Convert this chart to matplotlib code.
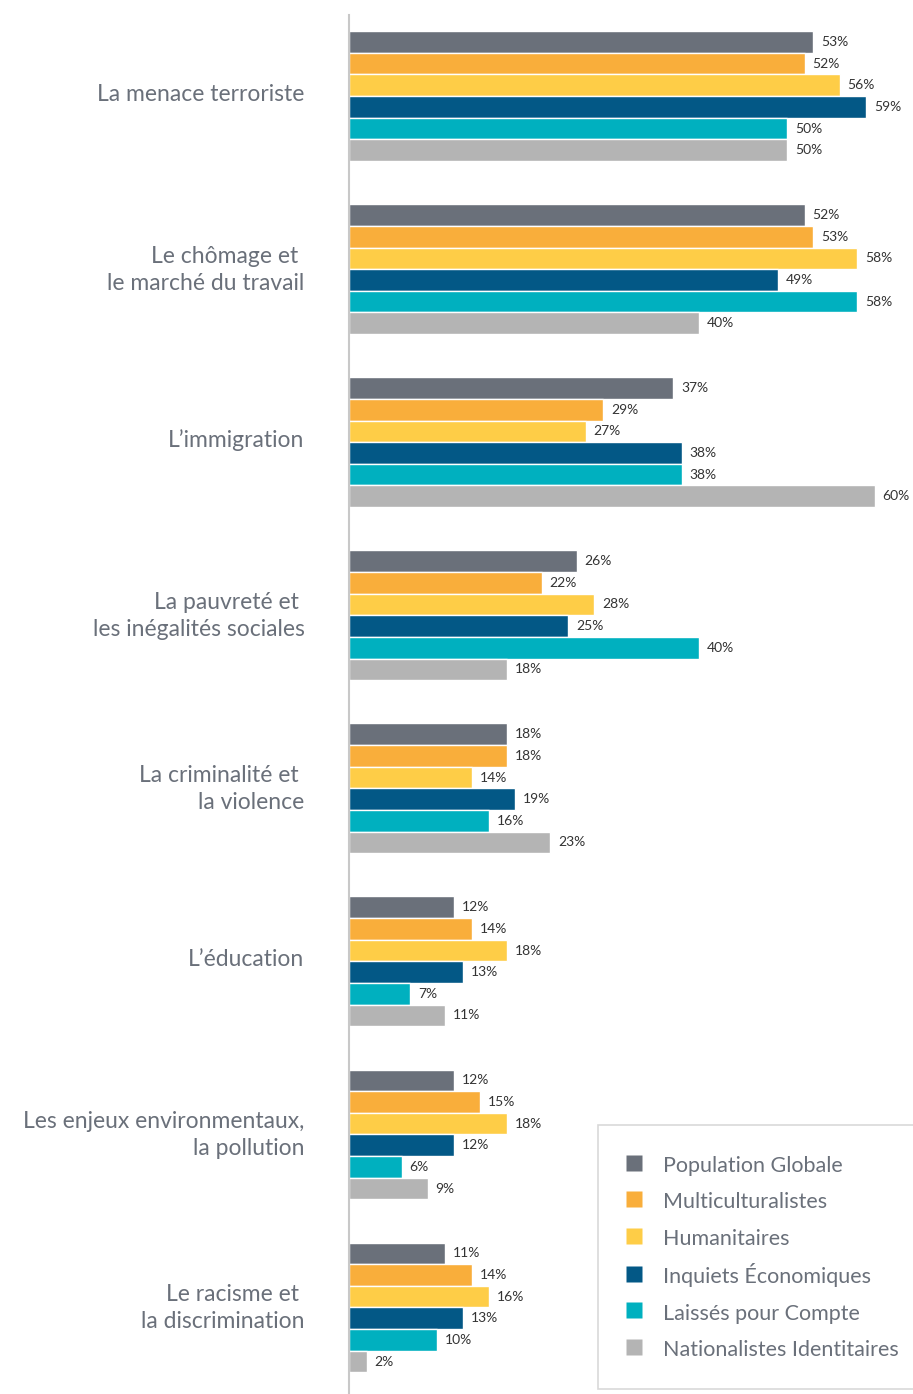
import numpy as np
import matplotlib
matplotlib.use("Agg")
import matplotlib.pyplot as plt
from matplotlib.lines import Line2D
from matplotlib.transforms import ScaledTranslation

categories = [
    "La menace terroriste",
    "Le chômage et \nle marché du travail",
    "L\u2019immigration",
    "La pauvreté et \nles inégalités sociales",
    "La criminalité et \nla violence",
    "L\u2019éducation",
    "Les enjeux environmentaux,\nla pollution",
    "Le racisme et \nla discrimination",
]
series = [
    "Population Globale",
    "Multiculturalistes",
    "Humanitaires",
    "Inquiets Économiques",
    "Laissés pour Compte",
    "Nationalistes Identitaires",
]
pop_globale = [53, 52, 37, 26, 18, 12, 12, 11]
multicult = [52, 53, 29, 22, 18, 14, 15, 14]
humanitaires = [56, 58, 27, 28, 14, 18, 18, 16]
inquiets = [59, 49, 38, 25, 19, 13, 12, 13]
laisses = [50, 58, 38, 40, 16, 7, 6, 10]
nationalistes = [50, 40, 60, 18, 23, 11, 9, 2]
values = [pop_globale, multicult, humanitaires, inquiets, laisses, nationalistes]
colors = ["#6a707a", "#f9ae3b", "#fecd47", "#035886", "#00b0bf", "#b4b4b4"]

plt.rcParams["font.family"] = ["Lato", "DejaVu Sans"]
text_gray = "#6a707a"

fig = plt.figure(figsize=(9.13, 13.94), dpi=100)
ax = fig.add_axes([349 / 913, 0, 1 - 349 / 913, 1 - 15 / 1394])

group_pitch = 8
centers = np.arange(len(categories)) * group_pitch
for j, (vals, col) in enumerate(zip(values, colors)):
    ys = centers + (j - 2.5)
    ax.barh(ys, vals, height=1.0, color=col, edgecolor="white", linewidth=1.0)
    for y, v in zip(ys, vals):
        ax.text(v + 0.9, y, f"{v}%", va="center", ha="left", fontsize=10, color="#333333")

ax.set_xlim(0, 564 / 8.76)
ax.set_ylim(60.0, -3.75)
ax.set_yticks(centers)
ax.set_yticklabels(categories, fontsize=16.5, color=text_gray, linespacing=1.35)
ax.tick_params(axis="y", length=0, pad=32)
shift = ScaledTranslation(0, 4 / 100, fig.dpi_scale_trans)
for lbl in ax.get_yticklabels():
    lbl.set_transform(lbl.get_transform() + shift)
ax.set_xticks([])
for s in ["top", "right", "bottom"]:
    ax.spines[s].set_visible(False)
ax.spines["left"].set_color("#c8c8c8")
ax.spines["left"].set_linewidth(1.5)

# square markers keep every legend row the same height
handles = [Line2D([], [], marker="s", linestyle="none", markersize=11,
                  markerfacecolor=c, markeredgecolor="none") for c in colors]
leg = fig.legend(handles, series, loc="upper left", bbox_to_anchor=(604 / 913, 1 - 1131 / 1394),
                 frameon=True, fontsize=15.5, labelcolor=text_gray, handlelength=0.7, handleheight=1.2,
                 handletextpad=1.0, labelspacing=0.66, borderpad=1.05, borderaxespad=0)
leg.get_frame().set_edgecolor("#cfcfcf")
leg.get_frame().set_linewidth(1.2)
leg.get_frame().set_boxstyle("square")

fig.savefig("out.png", dpi=100)
